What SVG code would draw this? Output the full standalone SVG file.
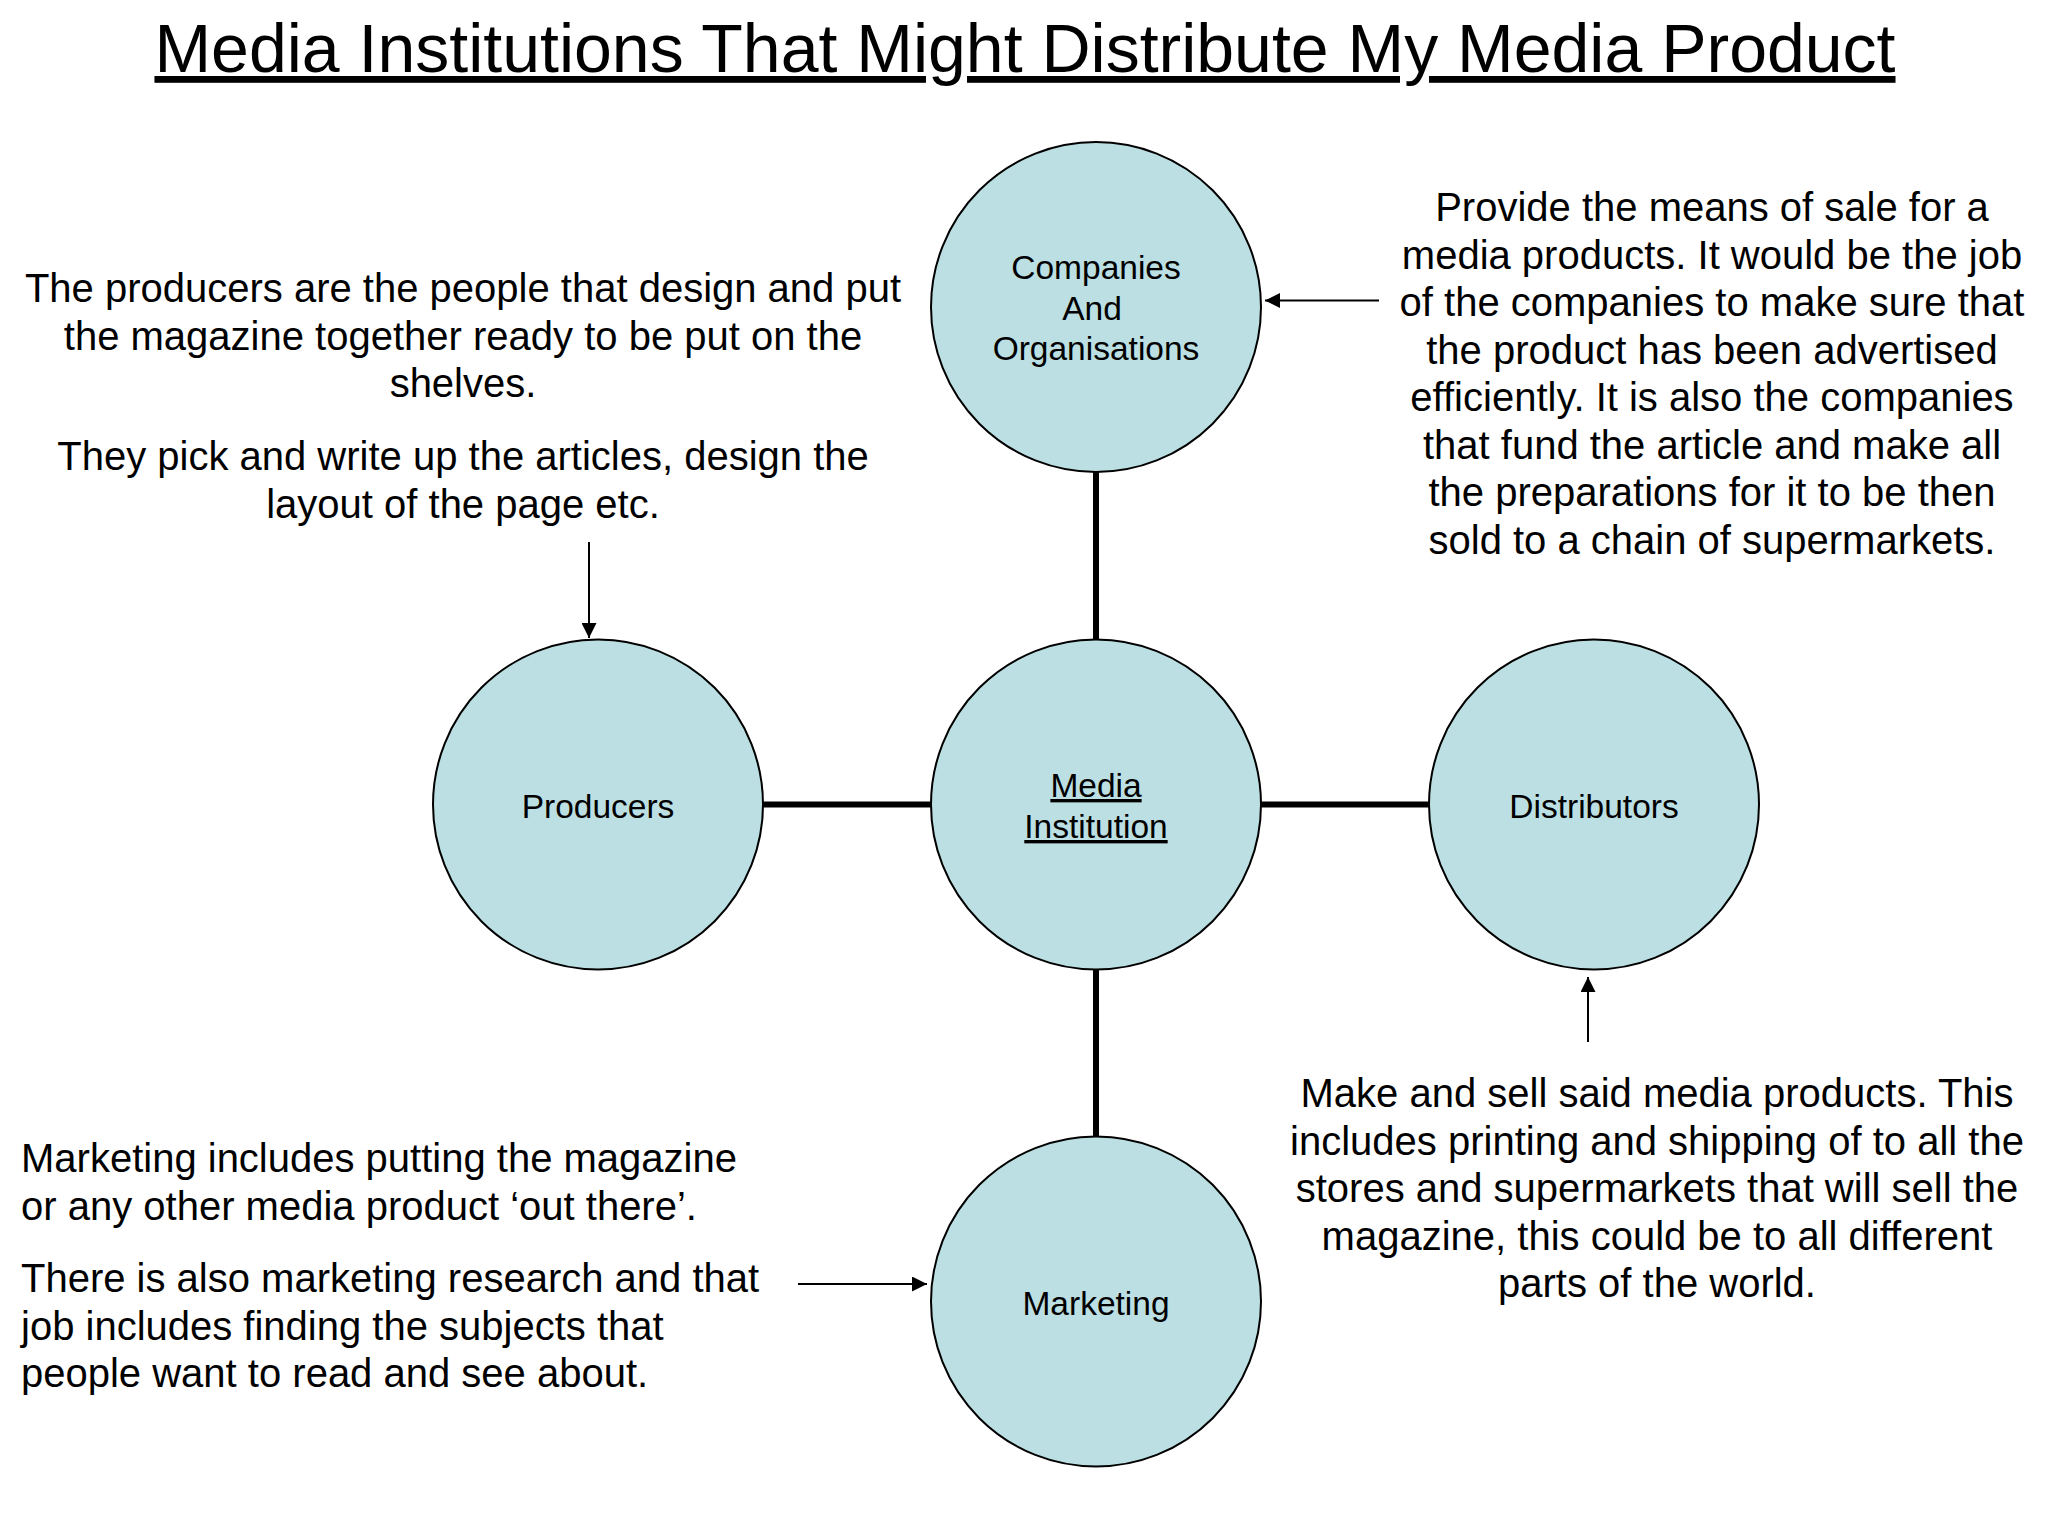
<svg xmlns="http://www.w3.org/2000/svg" width="2048" height="1536" viewBox="0 0 2048 1536">
<style>
.bg{fill:#ffffff}
.node{fill:#BBDFE2;stroke:#000;stroke-width:2}
.lbl{font-family:"Liberation Sans",Arial,sans-serif;font-size:33.5px;fill:#000;text-anchor:middle}
.u{text-decoration:underline;text-decoration-skip-ink:none}
.txt{font-family:"Liberation Sans",Arial,sans-serif;font-size:40px;fill:#000}
.c{text-anchor:middle}
.title{font-family:"Liberation Sans",Arial,sans-serif;font-size:68px;fill:#000;text-anchor:middle;text-decoration:underline;text-decoration-skip-ink:none}
.link{stroke:#000;stroke-width:6;fill:none}
.arr{stroke:#000;stroke-width:2;fill:none;marker-end:url(#ah)}
</style>
<defs>
<marker id="ah" viewBox="0 0 10 10" refX="10" refY="5" markerUnits="userSpaceOnUse" markerWidth="17" markerHeight="15" orient="auto">
<path d="M0,0 L10,5 L0,10 Z" fill="#000"/>
</marker>
</defs>
<rect class="bg" x="0" y="0" width="2048" height="1536"/>
<text class="title" x="1025" y="72">Media Institutions That Might Distribute My Media Product</text>

<g id="connectors">
<line class="link" x1="1096" y1="472" x2="1096" y2="639"/>
<line class="link" x1="763" y1="804.5" x2="931" y2="804.5"/>
<line class="link" x1="1261" y1="804.5" x2="1429" y2="804.5"/>
<line class="link" x1="1096" y1="970" x2="1096" y2="1137"/>
<line class="arr" x1="1379" y1="300.5" x2="1265" y2="300.5"/>
<line class="arr" x1="589" y1="542" x2="589" y2="638"/>
<line class="arr" x1="1588" y1="1042" x2="1588" y2="977"/>
<line class="arr" x1="798" y1="1284" x2="927" y2="1284"/>
</g>

<g id="companies">
<circle class="node" cx="1096" cy="307" r="165"/>
<text class="lbl" x="1096" y="279">Companies</text>
<text class="lbl" x="1092" y="320">And</text>
<text class="lbl" x="1096" y="360">Organisations</text>
</g>

<g id="media-institution">
<circle class="node" cx="1096" cy="804.5" r="165"/>
<text class="lbl u" x="1096" y="797">Media</text>
<text class="lbl u" x="1096" y="838">Institution</text>
</g>

<g id="producers">
<circle class="node" cx="598" cy="804.5" r="165"/>
<text class="lbl" x="598" y="818">Producers</text>
</g>

<g id="distributors">
<circle class="node" cx="1594" cy="804.5" r="165"/>
<text class="lbl" x="1594" y="818">Distributors</text>
</g>

<g id="marketing">
<circle class="node" cx="1096" cy="1301.5" r="165"/>
<text class="lbl" x="1096" y="1315">Marketing</text>
</g>

<g id="producers-note">
<text class="txt c" x="463" y="302">The producers are the people that design and put</text>
<text class="txt c" x="463" y="349.5">the magazine together ready to be put on the</text>
<text class="txt c" x="463" y="397">shelves.</text>
<text class="txt c" x="463" y="470">They pick and write up the articles, design the</text>
<text class="txt c" x="463" y="517.5">layout of the page etc.</text>
</g>

<g id="companies-note">
<text class="txt c" x="1712" y="221">Provide the means of sale for a</text>
<text class="txt c" x="1712" y="268.5">media products. It would be the job</text>
<text class="txt c" x="1712" y="316">of the companies to make sure that</text>
<text class="txt c" x="1712" y="363.5">the product has been advertised</text>
<text class="txt c" x="1712" y="411">efficiently. It is also the companies</text>
<text class="txt c" x="1712" y="458.5">that fund the article and make all</text>
<text class="txt c" x="1712" y="506">the preparations for it to be then</text>
<text class="txt c" x="1712" y="553.5">sold to a chain of supermarkets.</text>
</g>

<g id="distributors-note">
<text class="txt c" x="1657" y="1107">Make and sell said media products. This</text>
<text class="txt c" x="1657" y="1154.5">includes printing and shipping of to all the</text>
<text class="txt c" x="1657" y="1202">stores and supermarkets that will sell the</text>
<text class="txt c" x="1657" y="1249.5">magazine, this could be to all different</text>
<text class="txt c" x="1657" y="1297">parts of the world.</text>
</g>

<g id="marketing-note">
<text class="txt" x="21" y="1172">Marketing includes putting the magazine</text>
<text class="txt" x="21" y="1219.5">or any other media product ‘out there’.</text>
<text class="txt" x="21" y="1292">There is also marketing research and that</text>
<text class="txt" x="21" y="1339.5">job includes finding the subjects that</text>
<text class="txt" x="21" y="1387">people want to read and see about.</text>
</g>
</svg>
